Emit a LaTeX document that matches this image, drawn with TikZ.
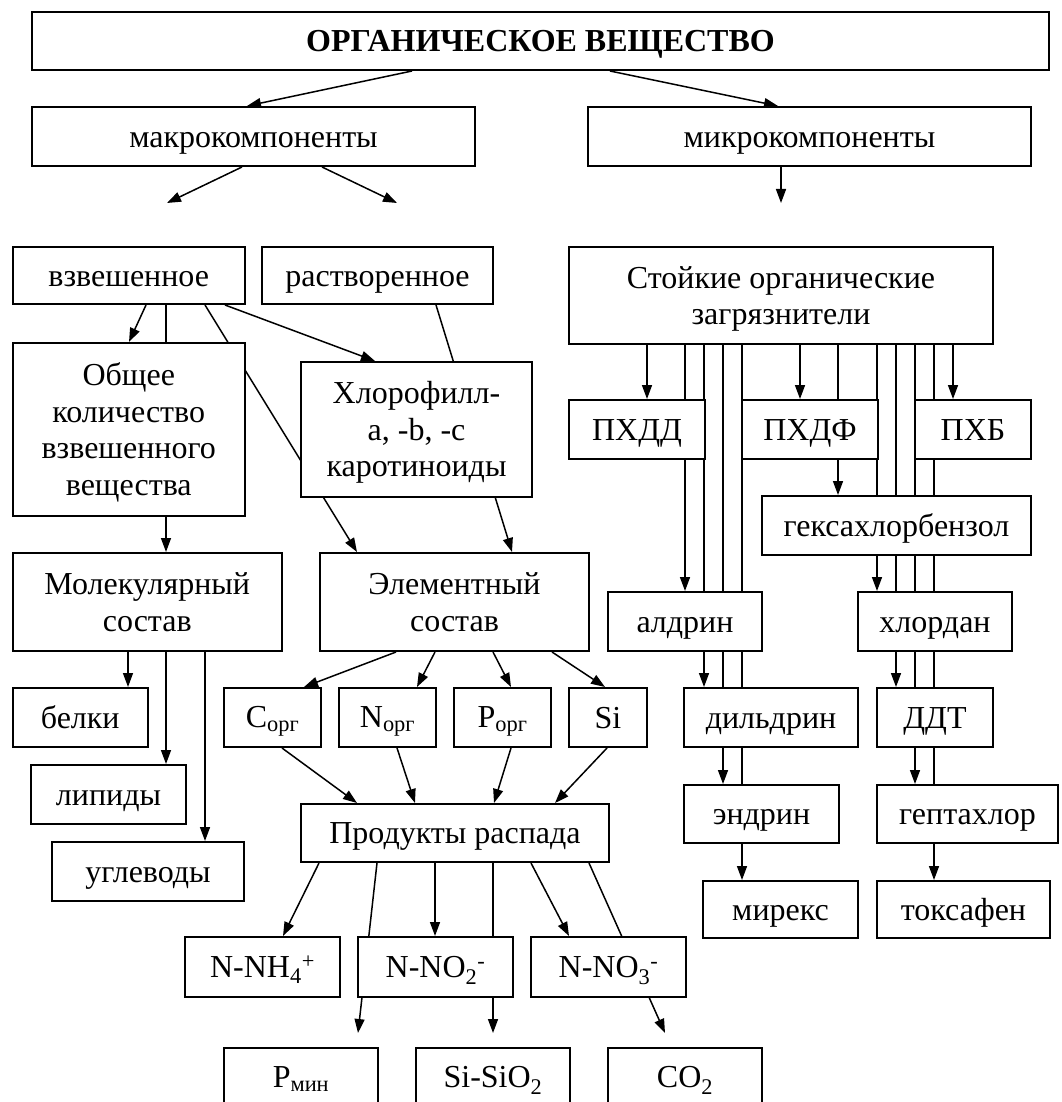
\documentclass[tikz,border=0pt]{standalone}
\usepackage{fontspec}
\setmainfont{Liberation Serif}
\usetikzlibrary{arrows.meta}
\pgfdeclarelayer{bg}
\pgfsetlayers{bg,main}
\newcommand\sT{\rule[-6.9pt]{0pt}{35.4pt}}
\begin{document}
\begin{tikzpicture}[x=1pt,y=-1pt,
  box/.style={draw,line width=2pt,fill=white,inner sep=0pt,align=center,
    font=\fontsize{32}{36.5}\selectfont},
  arr/.style={line width=1.5pt,-{Triangle[length=14pt,width=10pt]}},
  ln/.style={line width=1.5pt}]
\useasboundingbox (0,0) rectangle (1061,1102);
% ---------- top ----------
\node[box,minimum width=1017pt,minimum height=58pt] (title) at (540.5,41) {\sT\textbf{ОРГАНИЧЕСКОЕ ВЕЩЕСТВО}};
\node[box,minimum width=443pt,minimum height=59pt] (makro) at (253.5,136.5) {\sT макрокомпоненты};
\node[box,minimum width=443pt,minimum height=59pt] (mikro) at (809.5,136.5) {\sT микрокомпоненты};
\coordinate (f1) at (167,203);
\coordinate (f2) at (397,203);
\coordinate (f3) at (781,203);
% ---------- left ----------
\node[box,minimum width=232.5pt,minimum height=57pt] (vzv) at (128.75,275.5) {\sT взвешенное};
\node[box,minimum width=231pt,minimum height=57pt] (rastv) at (377.5,275.5) {\sT растворенное};
\node[box,minimum width=232.5pt,minimum height=173pt] (obsh) at (128.75,429.5) {\sT Общее\\\sT количество\\\sT взвешенного\\\sT вещества};
\node[box,minimum width=231pt,minimum height=135pt] (hloro) at (416.5,429.5) {\sT Хлорофилл-\\\sT a, -b, -c\\\sT каротиноиды};
\node[box,minimum width=269.5pt,minimum height=98pt] (molek) at (147.25,602) {\sT Молекулярный\\\sT состав};
\node[box,minimum width=269pt,minimum height=98pt] (elem) at (454.5,602) {\sT Элементный\\\sT состав};
\node[box,minimum width=135.5pt,minimum height=59pt] (belki) at (80.25,717.5) {\sT белки};
\node[box,minimum width=155pt,minimum height=59pt] (lipid) at (108.5,794.5) {\sT липиды};
\node[box,minimum width=192pt,minimum height=59pt] (uglev) at (148,871.5) {\sT углеводы};
\node[box,minimum width=97pt,minimum height=59pt] (corg) at (272.5,717.5) {\sT C\textsubscript{орг}};
\node[box,minimum width=97pt,minimum height=59pt] (norg) at (387.5,717.5) {\sT N\textsubscript{орг}};
\node[box,minimum width=97pt,minimum height=59pt] (porg) at (502.5,717.5) {\sT P\textsubscript{орг}};
\node[box,minimum width=78pt,minimum height=59pt] (si) at (608,717.5) {\sT Si};
\node[box,minimum width=308pt,minimum height=58pt] (prod) at (455,833) {\sT Продукты распада};
\node[box,minimum width=155pt,minimum height=60pt] (nh4) at (262.5,967) {\sT N-NH\textsubscript{4}\textsuperscript{+}};
\node[box,minimum width=155pt,minimum height=60pt] (no2) at (435.5,967) {\sT N-NO\textsubscript{2}\textsuperscript{-}};
\node[box,minimum width=155pt,minimum height=60pt] (no3) at (608.5,967) {\sT N-NO\textsubscript{3}\textsuperscript{-}};
\node[box,minimum width=154pt,minimum height=58pt] (pmin) at (301,1077) {\sT P\textsubscript{мин}};
\node[box,minimum width=154pt,minimum height=58pt] (sio2) at (493,1077) {\sT Si-SiO\textsubscript{2}};
\node[box,minimum width=154pt,minimum height=58pt] (co2) at (685,1077) {\sT CO\textsubscript{2}};
% ---------- right ----------
\node[box,minimum width=424pt,minimum height=97pt] (stoik) at (781,295.5) {\sT Стойкие органические\\\sT загрязнители};
\node[box,minimum width=136pt,minimum height=59pt] (pxdd) at (637,429.5) {\sT ПХДД};
\node[box,minimum width=136pt,minimum height=59pt] (pxdf) at (810,429.5) {\sT ПХДФ};
\node[box,minimum width=116pt,minimum height=59pt] (pxb) at (973,429.5) {\sT ПХБ};
\node[box,minimum width=269pt,minimum height=59pt] (geks) at (896.5,525.5) {\sT гексахлорбензол};
\node[box,minimum width=154pt,minimum height=59pt] (aldr) at (685,621.5) {\sT алдрин};
\node[box,minimum width=154pt,minimum height=59pt] (hlord) at (935,621.5) {\sT хлордан};
\node[box,minimum width=174pt,minimum height=59pt] (dild) at (771,717.5) {\sT дильдрин};
\node[box,minimum width=116pt,minimum height=59pt] (ddt) at (935,717.5) {\sT ДДТ};
\node[box,minimum width=155pt,minimum height=58pt] (endr) at (761.5,814) {\sT эндрин};
\node[box,minimum width=181pt,minimum height=58pt] (gept) at (967.5,814) {\sT гептахлор};
\node[box,minimum width=155pt,minimum height=57pt] (mirex) at (780.5,909.5) {\sT мирекс};
\node[box,minimum width=173pt,minimum height=57pt] (toks) at (963.5,909.5) {\sT токсафен};
\coordinate (f4) at (358,1033);
\coordinate (f5) at (493,1033);
\coordinate (f6) at (665,1033);
% ---------- connectors ----------
\begin{pgfonlayer}{bg}
\draw[arr] (title.south -| 412,0) -- (makro.north -| 247,0);
\draw[arr] (title.south -| 610,0) -- (mikro.north -| 778,0);
\draw[arr] (makro.south -| 242,0) -- (f1);
\draw[arr] (makro.south -| 322,0) -- (f2);
\draw[arr] (mikro.south -| 781,0) -- (f3);
\draw[arr] (vzv.south -| 146,0) -- (obsh.north -| 129,0);
\draw[ln]  (vzv.south -| 166,0) -- (obsh.north -| 166,0);
\draw[arr] (vzv.south -| 205,0) -- (elem.north -| 357,0);
\draw[arr] (vzv.south -| 225,0) -- (hloro.north -| 375,0);
\draw[arr] (rastv.south -| 436,0) -- (elem.north -| 512,0);
\draw[arr] (obsh.south -| 166,0) -- (molek.north -| 166,0);
\draw[arr] (molek.south -| 128,0) -- (belki.north -| 128,0);
\draw[arr] (molek.south -| 166,0) -- (lipid.north -| 166,0);
\draw[arr] (molek.south -| 205,0) -- (uglev.north -| 205,0);
\draw[arr] (elem.south -| 396,0) -- (corg.north -| 304,0);
\draw[arr] (elem.south -| 435,0) -- (norg.north -| 417,0);
\draw[arr] (elem.south -| 493,0) -- (porg.north -| 511,0);
\draw[arr] (elem.south -| 552,0) -- (si.north -| 605,0);
\draw[arr] (corg.south -| 282,0) -- (prod.north -| 357,0);
\draw[arr] (norg.south -| 397,0) -- (prod.north -| 415,0);
\draw[arr] (porg.south -| 511,0) -- (prod.north -| 494,0);
\draw[arr] (si.south -| 607,0) -- (prod.north -| 555,0);
\draw[arr] (prod.south -| 319,0) -- (nh4.north -| 283,0);
\draw[arr] (prod.south -| 377,0) -- (f4);
\draw[arr] (prod.south -| 435,0) -- (no2.north -| 435,0);
\draw[arr] (prod.south -| 493,0) -- (f5);
\draw[arr] (prod.south -| 531,0) -- (no3.north -| 569,0);
\draw[arr] (prod.south -| 589,0) -- (f6);
% right column
\draw[arr] (stoik.south -| 647,0) -- (pxdd.north -| 647,0);
\draw[arr] (stoik.south -| 685,0) -- (aldr.north -| 685,0);
\draw[arr] (stoik.south -| 704,0) -- (dild.north -| 704,0);
\draw[arr] (stoik.south -| 723,0) -- (endr.north -| 723,0);
\draw[arr] (stoik.south -| 742,0) -- (mirex.north -| 742,0);
\draw[arr] (stoik.south -| 800,0) -- (pxdf.north -| 800,0);
\draw[arr] (stoik.south -| 838,0) -- (geks.north -| 838,0);
\draw[arr] (stoik.south -| 877,0) -- (hlord.north -| 877,0);
\draw[arr] (stoik.south -| 896,0) -- (ddt.north -| 896,0);
\draw[arr] (stoik.south -| 915,0) -- (gept.north -| 915,0);
\draw[arr] (stoik.south -| 934,0) -- (toks.north -| 934,0);
\draw[arr] (stoik.south -| 953,0) -- (pxb.north -| 953,0);
\end{pgfonlayer}
\end{tikzpicture}
\end{document}
